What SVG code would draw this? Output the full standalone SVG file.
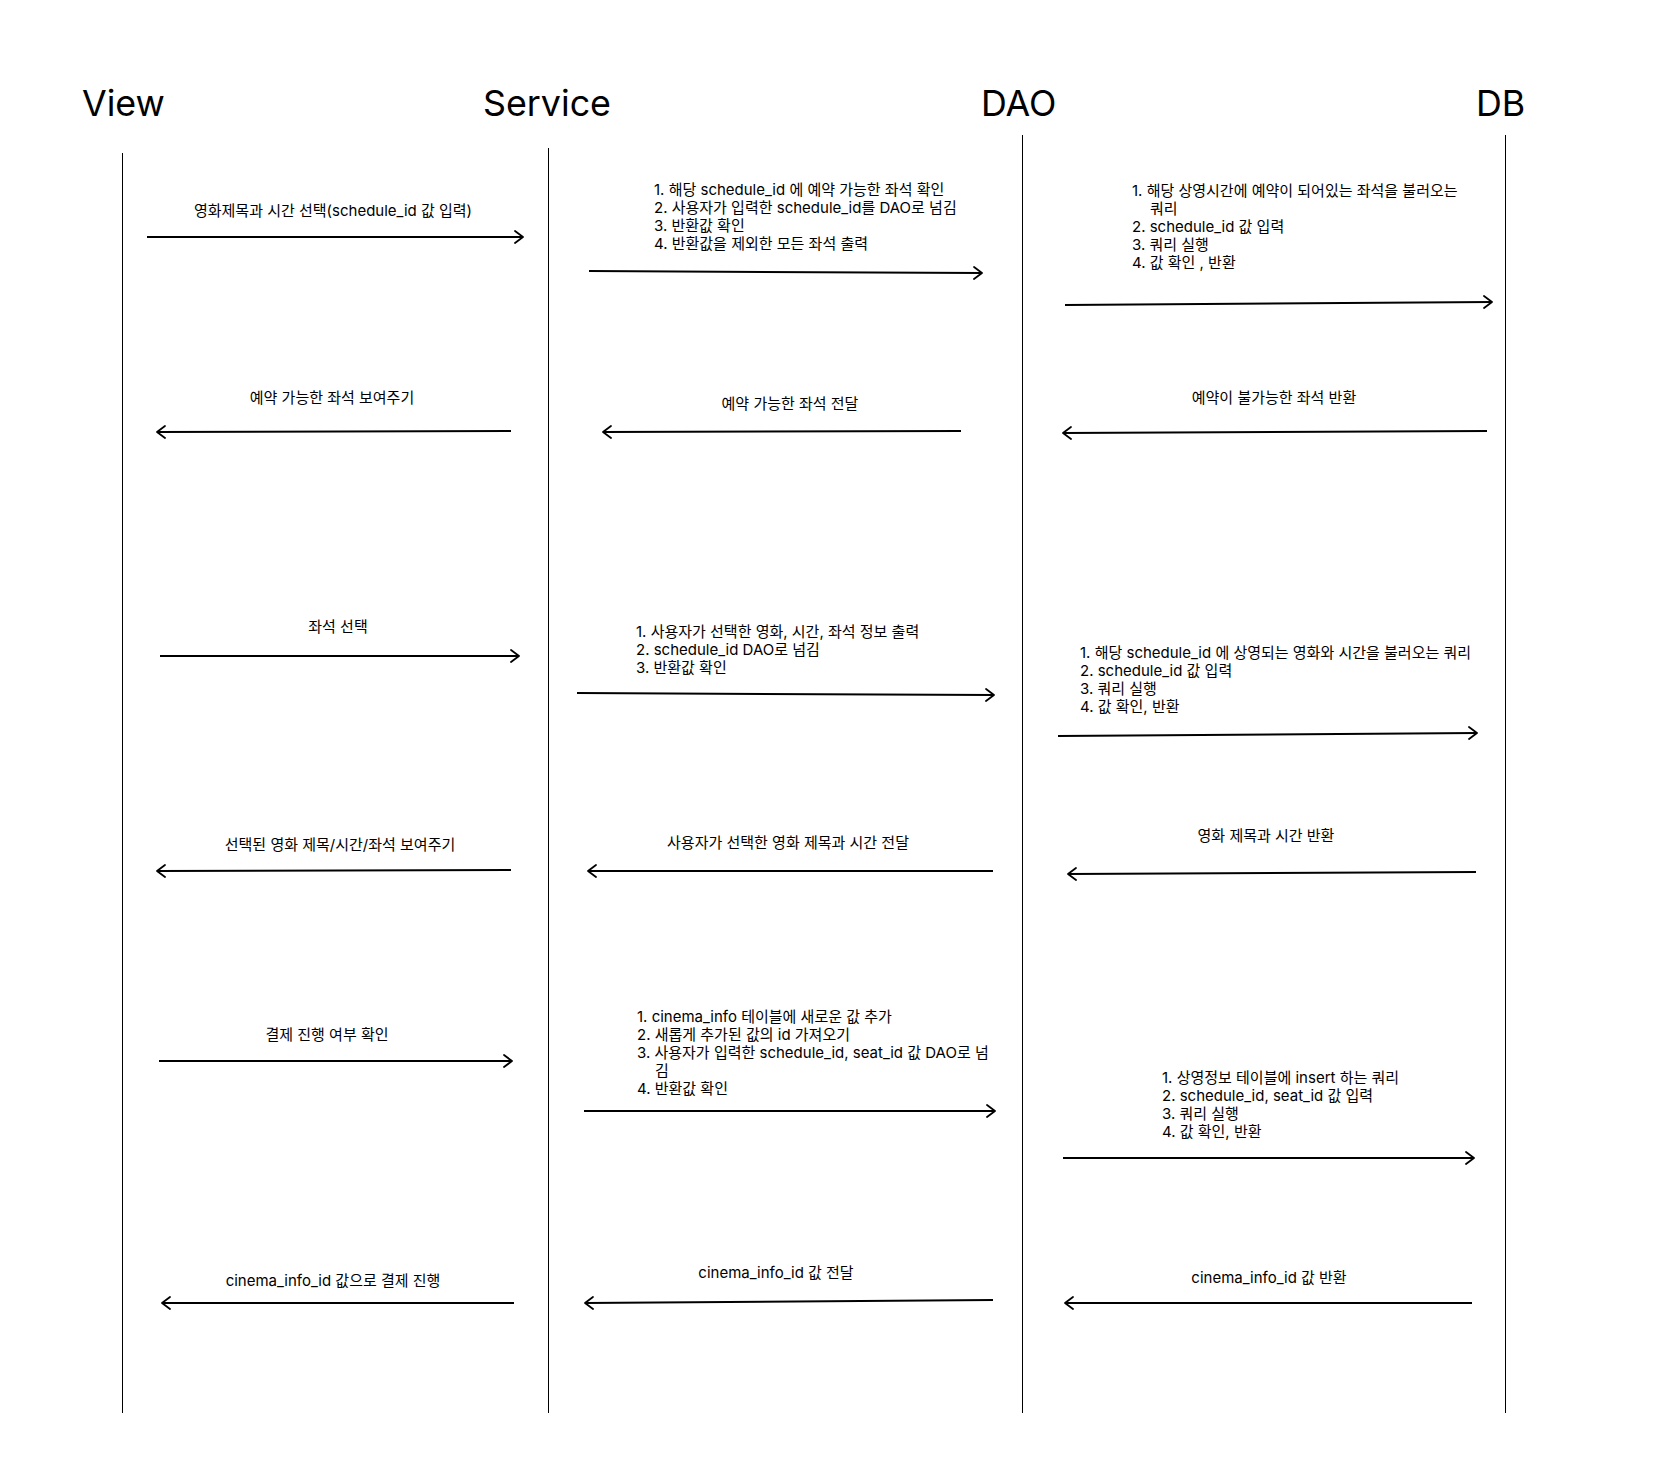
<svg xmlns="http://www.w3.org/2000/svg" width="1656" height="1472" viewBox="0 0 1656 1472">
<defs>
<style>
.hdr{font-family:"Inter","Liberation Sans",sans-serif;font-size:35.8px;fill:#000}
.t{font-family:"Inter","Noto Sans CJK KR",sans-serif;font-size:15px;fill:#000}
.c{text-anchor:middle}
.life{stroke:#000;stroke-width:1;fill:none}
.msg{stroke:#000;stroke-width:2;fill:none;marker-end:url(#ah)}
</style>
<marker id="ah" viewBox="0 0 10 14" refX="9" refY="7" markerWidth="10" markerHeight="14" markerUnits="userSpaceOnUse" orient="auto">
<path d="M1,1 L9,7 L1,13" fill="none" stroke="#000" stroke-width="1.8" stroke-linecap="round" stroke-linejoin="round"/>
</marker>
</defs>
<rect width="1656" height="1472" fill="#fff"/>

<g id="view">
<text class="hdr" x="82" y="116">View</text>
<line class="life" x1="122.5" y1="153" x2="122.5" y2="1413"/>
</g>
<g id="service">
<text class="hdr" x="483" y="116">Service</text>
<line class="life" x1="548.5" y1="148" x2="548.5" y2="1413"/>
</g>
<g id="dao">
<text class="hdr" x="981" y="116">DAO</text>
<line class="life" x1="1022.5" y1="135" x2="1022.5" y2="1413"/>
</g>
<g id="db">
<text class="hdr" x="1476" y="116">DB</text>
<line class="life" x1="1505.5" y1="135" x2="1505.5" y2="1413"/>
</g>

<g id="connectors">
<line class="msg" x1="147" y1="237" x2="523" y2="237"/>
<line class="msg" x1="589" y1="271" x2="982" y2="273"/>
<line class="msg" x1="1065" y1="305" x2="1492" y2="302"/>

<line class="msg" x1="511" y1="431" x2="157" y2="432"/>
<line class="msg" x1="961" y1="431" x2="603" y2="432"/>
<line class="msg" x1="1487" y1="431" x2="1063" y2="433"/>

<line class="msg" x1="160" y1="656" x2="519" y2="656"/>
<line class="msg" x1="577" y1="693" x2="994" y2="695"/>
<line class="msg" x1="1058" y1="736" x2="1477" y2="733"/>

<line class="msg" x1="511" y1="870" x2="157" y2="871"/>
<line class="msg" x1="993" y1="871" x2="588" y2="871"/>
<line class="msg" x1="1476" y1="872" x2="1068" y2="874"/>

<line class="msg" x1="159" y1="1061" x2="512" y2="1061"/>
<line class="msg" x1="584" y1="1111" x2="995" y2="1111"/>
<line class="msg" x1="1063" y1="1158" x2="1474" y2="1158"/>

<line class="msg" x1="514" y1="1303" x2="162" y2="1303"/>
<line class="msg" x1="993" y1="1300" x2="585" y2="1303"/>
<line class="msg" x1="1472" y1="1303" x2="1065" y2="1303"/>
</g>

<g id="labels">
<text class="t c" x="333" y="216">영화제목과 시간 선택(schedule_id 값 입력)</text>
<text class="t" x="654" y="195">1. 해당 schedule_id 에 예약 가능한 좌석 확인</text>
<text class="t" x="654" y="213">2. 사용자가 입력한 schedule_id를 DAO로 넘김</text>
<text class="t" x="654" y="231">3. 반환값 확인</text>
<text class="t" x="654" y="249">4. 반환값을 제외한 모든 좌석 출력</text>
<text class="t" x="1132" y="196">1. 해당 상영시간에 예약이 되어있는 좌석을 불러오는</text>
<text class="t" x="1150" y="214">쿼리</text>
<text class="t" x="1132" y="232">2. schedule_id 값 입력</text>
<text class="t" x="1132" y="250">3. 쿼리 실행</text>
<text class="t" x="1132" y="268">4. 값 확인 , 반환</text>

<text class="t c" x="332" y="403">예약 가능한 좌석 보여주기</text>
<text class="t c" x="790" y="409">예약 가능한 좌석 전달</text>
<text class="t c" x="1274" y="403">예약이 불가능한 좌석 반환</text>

<text class="t c" x="338" y="632">좌석 선택</text>
<text class="t" x="636" y="637">1. 사용자가 선택한 영화, 시간, 좌석 정보 출력</text>
<text class="t" x="636" y="655">2. schedule_id DAO로 넘김</text>
<text class="t" x="636" y="673">3. 반환값 확인</text>
<text class="t" x="1080" y="658">1. 해당 schedule_id 에 상영되는 영화와 시간을 불러오는 쿼리</text>
<text class="t" x="1080" y="676">2. schedule_id 값 입력</text>
<text class="t" x="1080" y="694">3. 쿼리 실행</text>
<text class="t" x="1080" y="712">4. 값 확인, 반환</text>

<text class="t c" x="340" y="850">선택된 영화 제목/시간/좌석 보여주기</text>
<text class="t c" x="788" y="848">사용자가 선택한 영화 제목과 시간 전달</text>
<text class="t c" x="1266" y="841">영화 제목과 시간 반환</text>

<text class="t c" x="327" y="1040">결제 진행 여부 확인</text>
<text class="t" x="637" y="1022">1. cinema_info 테이블에 새로운 값 추가</text>
<text class="t" x="637" y="1040">2. 새롭게 추가된 값의 id 가져오기</text>
<text class="t" x="637" y="1058">3. 사용자가 입력한 schedule_id, seat_id 값 DAO로 넘</text>
<text class="t" x="655" y="1076">김</text>
<text class="t" x="637" y="1094">4. 반환값 확인</text>
<text class="t" x="1162" y="1083">1. 상영정보 테이블에 insert 하는 쿼리</text>
<text class="t" x="1162" y="1101">2. schedule_id, seat_id 값 입력</text>
<text class="t" x="1162" y="1119">3. 쿼리 실행</text>
<text class="t" x="1162" y="1137">4. 값 확인, 반환</text>

<text class="t c" x="333" y="1286">cinema_info_id 값으로 결제 진행</text>
<text class="t c" x="776" y="1278">cinema_info_id 값 전달</text>
<text class="t c" x="1269" y="1283">cinema_info_id 값 반환</text>
</g>
</svg>
